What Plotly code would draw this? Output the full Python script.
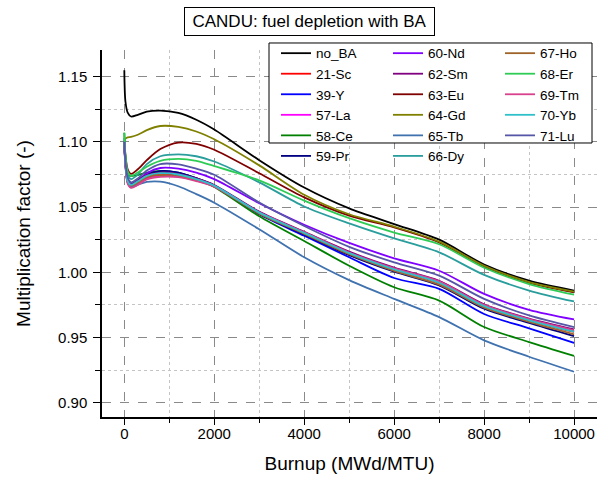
import plotly.graph_objects as go

# Burnup steps (MWd/MTU)
burnup = [0, 25, 75, 150, 300, 500, 800, 1200, 1600, 2000,
          3000, 4000, 5000, 6000, 7000, 8000, 9000, 10000]

# Multiplication factor for each burnable absorber case
k_noBA = [1.155, 1.131, 1.1225, 1.1195, 1.1208, 1.1232, 1.1240, 1.1222, 1.1170, 1.1095,
          1.0860, 1.0650, 1.0490, 1.0370, 1.0250, 1.0060, 0.9936, 0.9860]
k_Sc = [1.100, 1.083, 1.0695, 1.0665, 1.0690, 1.0730, 1.0755, 1.0745, 1.0710, 1.0660,
        1.0455, 1.0300, 1.0145, 1.0020, 0.9918, 0.9738, 0.9630, 0.9542]
k_Y = [1.100, 1.084, 1.0705, 1.0670, 1.0700, 1.0745, 1.0775, 1.0765, 1.0720, 1.0665,
       1.0445, 1.0280, 1.0115, 0.9956, 0.9873, 0.9680, 0.9570, 0.9458]
k_La = [1.100, 1.082, 1.0685, 1.0652, 1.0675, 1.0718, 1.0738, 1.0735, 1.0705, 1.0660,
        1.0460, 1.0305, 1.0150, 1.0025, 0.9925, 0.9745, 0.9635, 0.9550]
k_Ce = [1.107, 1.088, 1.0745, 1.0740, 1.0745, 1.0765, 1.0775, 1.0760, 1.0715, 1.0655,
        1.0430, 1.0240, 1.0050, 0.9885, 0.9783, 0.9580, 0.9465, 0.9359]
k_Pr = [1.100, 1.084, 1.0705, 1.0672, 1.0700, 1.0748, 1.0776, 1.0765, 1.0722, 1.0665,
        1.0450, 1.0290, 1.0132, 1.0005, 0.9900, 0.9720, 0.9612, 0.9510]
k_Nd = [1.100, 1.084, 1.0715, 1.0680, 1.0705, 1.0760, 1.0800, 1.0795, 1.0765, 1.0715,
        1.0530, 1.0365, 1.0225, 1.0107, 1.0012, 0.9834, 0.9712, 0.9638]
k_Sm = [1.101, 1.084, 1.0705, 1.0675, 1.0705, 1.0745, 1.0765, 1.0755, 1.0720, 1.0670,
        1.0465, 1.0310, 1.0158, 1.0035, 0.9935, 0.9755, 0.9645, 0.9562]
k_Eu = [1.100, 1.090, 1.0790, 1.0755, 1.0790, 1.0860, 1.0945, 1.0995, 1.0985, 1.0940,
        1.0760, 1.0575, 1.0435, 1.0345, 1.0230, 1.0045, 0.9920, 0.9845]
k_Gd = [1.101, 1.1025, 1.1035, 1.1038, 1.1055, 1.1090, 1.1122, 1.1115, 1.1080, 1.1020,
        1.0820, 1.0595, 1.0445, 1.0350, 1.0235, 1.0050, 0.9925, 0.9852]
k_Tb = [1.098, 1.082, 1.0690, 1.0655, 1.0672, 1.0693, 1.0695, 1.0660, 1.0600, 1.0534,
        1.0330, 1.0115, 0.9940, 0.9796, 0.9656, 0.9478, 0.9352, 0.9237]
k_Dy = [1.103, 1.087, 1.0745, 1.0715, 1.0750, 1.0830, 1.0890, 1.0905, 1.0890, 1.0850,
        1.0690, 1.0505, 1.0375, 1.0260, 1.0153, 0.9980, 0.9860, 0.9776]
k_Ho = [1.100, 1.083, 1.0695, 1.0665, 1.0688, 1.0728, 1.0745, 1.0738, 1.0705, 1.0657,
        1.0450, 1.0295, 1.0138, 1.0010, 0.9905, 0.9728, 0.9620, 0.9524]
k_Er = [1.107, 1.090, 1.0775, 1.0740, 1.0765, 1.0810, 1.0855, 1.0870, 1.0855, 1.0815,
        1.0705, 1.0550, 1.0415, 1.0305, 1.0215, 1.0035, 0.9910, 0.9828]
k_Tm = [1.100, 1.082, 1.0680, 1.0648, 1.0670, 1.0712, 1.0732, 1.0730, 1.0700, 1.0657,
        1.0460, 1.0308, 1.0152, 1.0030, 0.9930, 0.9750, 0.9640, 0.9555]
k_Yb = [1.100, 1.083, 1.0700, 1.0670, 1.0698, 1.0740, 1.0760, 1.0750, 1.0715, 1.0665,
        1.0458, 1.0302, 1.0147, 1.0022, 0.9920, 0.9740, 0.9632, 0.9545]
k_Lu = [1.100, 1.085, 1.0725, 1.0690, 1.0720, 1.0780, 1.0830, 1.0828, 1.0795, 1.0748,
        1.0535, 1.0355, 1.0195, 1.0076, 0.9974, 0.9796, 0.9669, 0.9580]

names = ["no_BA", "21-Sc", "39-Y", "57-La", "58-Ce", "59-Pr", "60-Nd", "62-Sm", "63-Eu",
         "64-Gd", "65-Tb", "66-Dy", "67-Ho", "68-Er", "69-Tm", "70-Yb", "71-Lu"]
series = [k_noBA, k_Sc, k_Y, k_La, k_Ce, k_Pr, k_Nd, k_Sm, k_Eu,
          k_Gd, k_Tb, k_Dy, k_Ho, k_Er, k_Tm, k_Yb, k_Lu]
colors = ["#000000", "#FF0000", "#0000FF", "#FF00FF", "#008000", "#000080", "#8000FF",
          "#800080", "#800000", "#808000", "#3F72AF", "#2A9D9D", "#A0642A", "#2ECC55",
          "#D8428C", "#2FC1C9", "#5656A8"]

FONT = "Liberation Sans, Arial, sans-serif"
ROWS = 6  # legend entries per column
legend_ids = ["legend", "legend2", "legend3"]

fig = go.Figure()
for i, (name, ys, c) in enumerate(zip(names, series, colors)):
    fig.add_trace(go.Scatter(
        x=burnup, y=ys, name=name, mode="lines",
        line=dict(color=c, width=1.8, shape="spline", smoothing=0.8),
        legend=legend_ids[i // ROWS],
    ))

axis_common = dict(
    showline=True, linecolor="black", linewidth=1.5, mirror=False,
    ticks="outside", tickwidth=1.3, tickcolor="black",
    showgrid=True, gridcolor="#8a8a8a", griddash="dash", gridwidth=1,
    zeroline=False,
    tickfont=dict(family=FONT, size=15, color="black"),
)

fig.update_xaxes(
    range=[-496, 10510], dtick=2000, tick0=0, tickformat="d", ticklen=6,
    ticklabelstandoff=-4,
    title=dict(text="Burnup (MWd/MTU)", font=dict(family=FONT, size=19, color="black"), standoff=16),
    minor=dict(dtick=1000, tick0=0, ticks="outside", ticklen=4, tickcolor="black",
               showgrid=True, gridcolor="#c4c4c4", griddash="dot", gridwidth=1),
    **axis_common,
)
fig.update_yaxes(
    range=[0.889, 1.1705], dtick=0.05, tick0=0.9, tickformat=".2f", ticklen=7,
    ticklabelstandoff=3,
    title=dict(text="Multiplication factor (-)", font=dict(family=FONT, size=19, color="black"), standoff=22),
    minor=dict(dtick=0.025, tick0=0.9, ticks="outside", ticklen=5, tickcolor="black",
               showgrid=True, gridcolor="#c4c4c4", griddash="dot", gridwidth=1),
    **axis_common,
)

legend_style = dict(
    orientation="v", yanchor="top", xanchor="left", y=1.033,
    bgcolor="rgba(0,0,0,0)", borderwidth=0,
    font=dict(family=FONT, size=13.5, color="black"),
    traceorder="normal", itemwidth=30,
)

fig.update_layout(
    width=603, height=480,
    margin=dict(l=102, r=6, t=50, b=63),
    paper_bgcolor="white", plot_bgcolor="white",
    font=dict(family=FONT, color="black"),
    showlegend=True,
    legend=dict(x=0.3515, **legend_style),
    legend2=dict(x=0.5778, **legend_style),
    legend3=dict(x=0.8040, **legend_style),
    shapes=[dict(
        type="rect", xref="paper", yref="paper", layer="above",
        x0=0.3374, x1=0.9899, y0=0.7466, y1=1.0191,
        line=dict(color="black", width=1), fillcolor="white",
    )],
    annotations=[dict(
        text="CANDU: fuel depletion with BA", xref="paper", yref="paper",
        x=0.419, y=1.0777, xanchor="center", yanchor="middle", showarrow=False,
        font=dict(family=FONT, size=17, color="black"),
        bordercolor="black", borderwidth=1, borderpad=2, bgcolor="white",
        width=245, height=23,
    )],
)

fig.write_html("out.html")
